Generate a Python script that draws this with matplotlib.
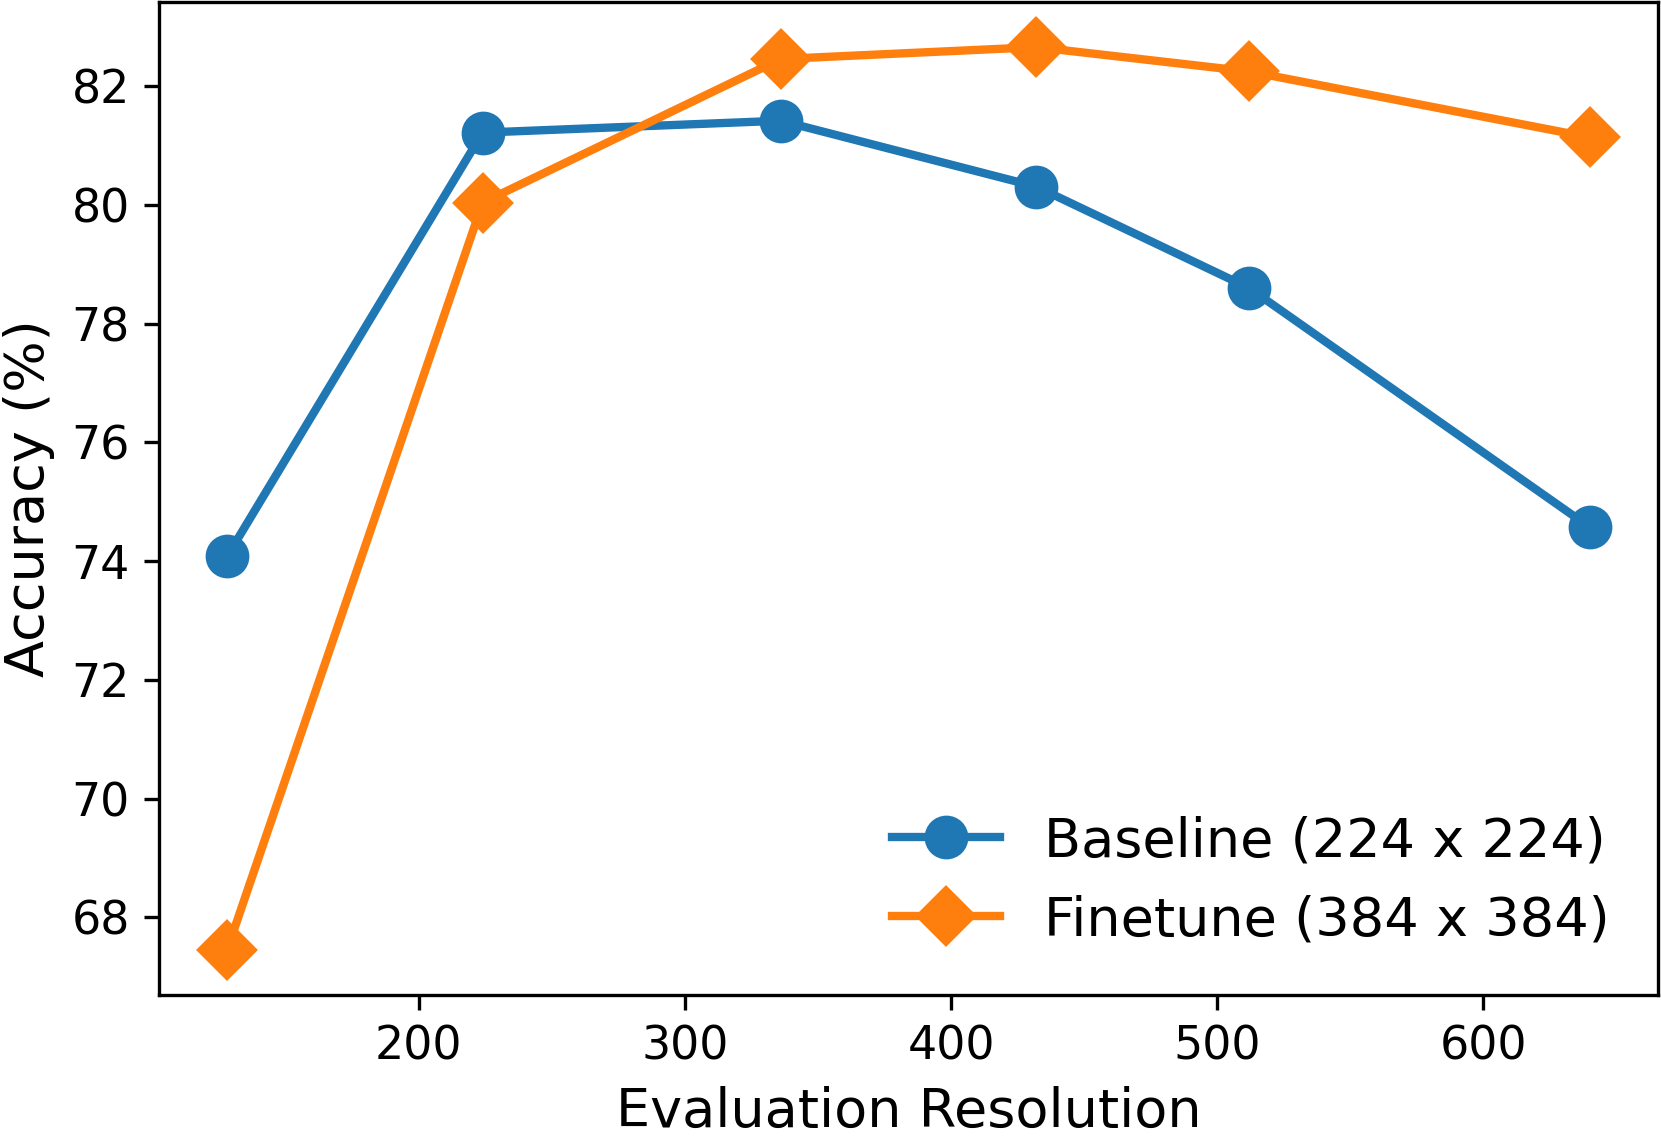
import matplotlib
matplotlib.use('Agg')
import matplotlib.pyplot as plt

resolutions = [128, 224, 336, 432, 512, 640]
baseline_acc = [74.08, 81.22, 81.42, 80.31, 78.60, 74.57]
finetune_acc = [67.45, 80.04, 82.46, 82.66, 82.25, 81.14]

fig = plt.figure(figsize=(1661 / 300, 1140 / 300), dpi=300)
ax = fig.add_axes([159 / 1661, 1 - 995 / 1140, (1658 - 159) / 1661, (995 - 2) / 1140])

ax.plot(resolutions, baseline_acc, marker='o', markersize=9.5, linewidth=2,
        color='#1f77b4', label='Baseline (224 x 224)')
ax.plot(resolutions, finetune_acc, marker='D', markersize=9.5, linewidth=2,
        color='#ff7f0e', label='Finetune (384 x 384)')

ax.set_xlabel('Evaluation Resolution', fontsize=13)
ax.set_ylabel('Accuracy (%)', fontsize=13)
ax.tick_params(labelsize=11)
ax.legend(loc='lower right', fontsize=13, frameon=False)

fig.savefig('out.png', dpi=300)
